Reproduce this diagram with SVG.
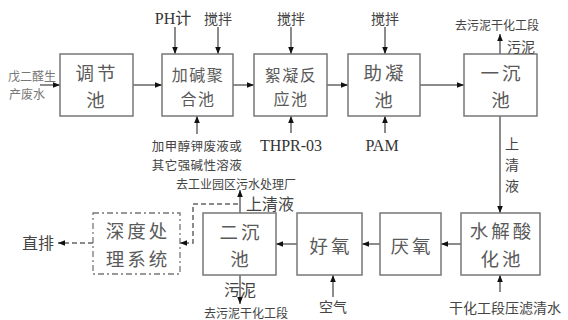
<svg xmlns="http://www.w3.org/2000/svg" width="568" height="320" viewBox="0 0 568 320">
<defs>
<marker id="ah" viewBox="0 0 10 10" refX="10" refY="5" markerWidth="7" markerHeight="7" markerUnits="userSpaceOnUse" orient="auto">
<path d="M0,1 L10,5 L0,9 z" fill="#111"/>
</marker>
</defs>
<style>
.box{fill:#fff;stroke:#777;stroke-width:1.5}
.dbox{fill:#fff;stroke:#777;stroke-width:1.3;stroke-dasharray:6 3 2 3}
.ln{stroke:#666;stroke-width:1.5;fill:none;marker-end:url(#ah)}
.dl{stroke:#666;stroke-width:1.5;fill:none;stroke-dasharray:5 3}
.bl{font-family:"Noto Sans CJK SC",sans-serif;font-size:18.5px;fill:#5a5a5a;text-anchor:middle;dominant-baseline:central;letter-spacing:3px}
.bs{font-family:"Noto Sans CJK SC",sans-serif;font-size:16px;fill:#5a5a5a;text-anchor:middle;dominant-baseline:central;letter-spacing:1.5px}
.t{font-family:"Liberation Serif","Noto Sans CJK SC",serif;font-size:16px;fill:#333;text-anchor:middle;dominant-baseline:central}
.s{font-family:"Noto Sans CJK SC",sans-serif;font-size:12px;fill:#444;text-anchor:middle;dominant-baseline:central}
.m{font-family:"Noto Sans CJK SC",sans-serif;font-size:14px;fill:#444;text-anchor:middle;dominant-baseline:central}
</style>
<g id="connectors">
<line class="ln" x1="40" y1="85" x2="60" y2="85"/>
<line class="ln" x1="133" y1="85" x2="162" y2="85"/>
<line class="ln" x1="233" y1="85" x2="254" y2="85"/>
<line class="ln" x1="327" y1="85" x2="348" y2="85"/>
<line class="ln" x1="420" y1="85" x2="464" y2="85"/>
<line class="ln" x1="175" y1="27" x2="175" y2="54"/>
<line class="ln" x1="218" y1="27" x2="218" y2="54"/>
<line class="ln" x1="291" y1="27" x2="291" y2="54"/>
<line class="ln" x1="385" y1="27" x2="385" y2="54"/>
<line class="ln" x1="197" y1="134" x2="197" y2="116"/>
<line class="ln" x1="291" y1="133" x2="291" y2="116"/>
<line class="ln" x1="385" y1="133" x2="385" y2="116"/>
<line class="ln" x1="500" y1="54" x2="500" y2="34"/>
<line class="ln" x1="500" y1="116" x2="500" y2="213"/>
<line class="ln" x1="461" y1="244" x2="441" y2="244"/>
<line class="ln" x1="380" y1="244" x2="362" y2="244"/>
<line class="ln" x1="297" y1="244" x2="276" y2="244"/>
<line class="ln" x1="500" y1="292" x2="500" y2="275"/>
<line class="ln" x1="333" y1="297" x2="333" y2="275"/>
<line class="ln" x1="240" y1="213" x2="240" y2="190"/>
<line class="ln" x1="240" y1="275" x2="240" y2="304"/>
<polyline class="dl" points="238,204 193,204 193,243 183,243"/>
<line x1="186" y1="243" x2="180" y2="243" class="ln"/>
<line class="dl" x1="93" y1="243" x2="62" y2="243"/>
<line class="ln" x1="64" y1="243" x2="58" y2="243"/>
</g>
<g id="n1"><rect class="box" x="60" y="54" width="73" height="62"/><text class="bl"><tspan x="97" y="71.5">调节</tspan><tspan x="97" y="98.5">池</tspan></text></g>
<g id="n2"><rect class="box" x="162" y="54" width="71" height="62"/><text class="bs"><tspan x="198" y="74">加碱聚</tspan><tspan x="198" y="97.5">合池</tspan></text></g>
<g id="n3"><rect class="box" x="254" y="54" width="73" height="62"/><text class="bs"><tspan x="291" y="74">絮凝反</tspan><tspan x="291" y="97.5">应池</tspan></text></g>
<g id="n4"><rect class="box" x="348" y="54" width="72" height="62"/><text class="bl"><tspan x="385" y="71.5">助凝</tspan><tspan x="385" y="98.5">池</tspan></text></g>
<g id="n5"><rect class="box" x="464" y="54" width="73" height="62"/><text class="bl"><tspan x="502" y="71.5">一沉</tspan><tspan x="502" y="98.5">池</tspan></text></g>
<g id="n6"><rect class="box" x="461" y="213" width="79" height="62"/><text class="bl"><tspan x="502" y="230">水解酸</tspan><tspan x="502" y="257.5">化池</tspan></text></g>
<g id="n7"><rect class="box" x="380" y="213" width="61" height="62"/><text class="bl" x="412" y="245">厌氧</text></g>
<g id="n8"><rect class="box" x="297" y="213" width="65" height="62"/><text class="bl" x="331" y="245">好氧</text></g>
<g id="n9"><rect class="box" x="203" y="213" width="73" height="62"/><text class="bl"><tspan x="241" y="230.5">二沉</tspan><tspan x="241" y="257.5">池</tspan></text></g>
<g id="n10"><rect class="dbox" x="93" y="213" width="87" height="61"/><text class="bl"><tspan x="138" y="230">深度处</tspan><tspan x="138" y="257.5">理系统</tspan></text></g>
<g id="labels">
<text class="s" style="fill:#777"><tspan x="32" y="75">戊二醛生</tspan><tspan x="27" y="92.5">产废水</tspan></text>
<text class="t" x="173" y="18">PH计</text>
<text class="m" x="218" y="18">搅拌</text>
<text class="m" x="291" y="18">搅拌</text>
<text class="m" x="385" y="18">搅拌</text>
<text class="s" style="font-size:12.5px;letter-spacing:0.4px"><tspan x="197" y="145">加甲醇钾废液或</tspan><tspan x="197" y="163.5">其它强碱性溶液</tspan></text>
<text class="t" x="291" y="145">THPR-03</text>
<text class="t" x="382" y="145">PAM</text>
<text class="s" x="497" y="24">去污泥干化工段</text>
<text class="m" x="521" y="46">污泥</text>
<text class="m"><tspan x="512" y="143">上</tspan><tspan x="512" y="164">清</tspan><tspan x="512" y="185">液</tspan></text>
<text class="s" x="236" y="183">去工业园区污水处理厂</text>
<text class="m" x="270" y="203" style="font-size:16px">上清液</text>
<text class="m" x="240" y="289" style="font-size:16px">污泥</text>
<text class="s" x="246" y="312">去污泥干化工段</text>
<text class="m" x="333" y="306">空气</text>
<text class="m" x="505" y="307">干化工段压滤清水</text>
<text class="m" x="38" y="242" style="font-size:16px">直排</text>
</g>
</svg>
